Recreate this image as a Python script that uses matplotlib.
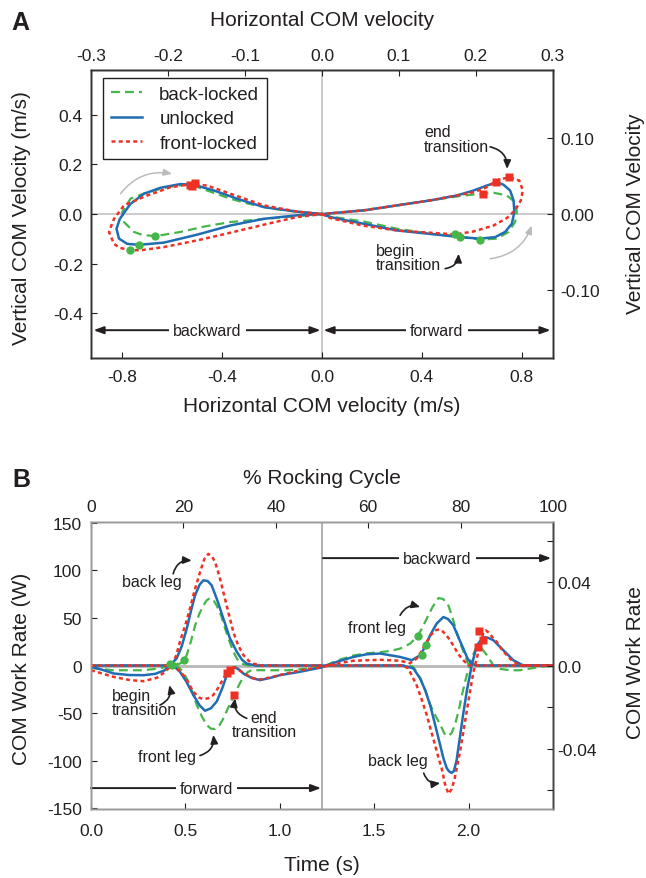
import numpy as np
import matplotlib.pyplot as plt

plt.rcParams['font.family'] = ['Liberation Sans', 'DejaVu Sans']

GREEN = '#45b649'
BLUE = '#1f6db4'
RED = '#ee3124'
INK = '#231f20'
GRAY = '#c2c2c2'

# ---------------- panel A: COM velocity loops (horizontal, vertical in m/s)
bl_loop = [(0.0, 0.0), (0.033, -0.01), (0.167, -0.03), (0.3, -0.059), (0.433, -0.079), (0.533, -0.088),
           (0.633, -0.103), (0.7, -0.099), (0.747, -0.072), (0.773, -0.032), (0.78, 0.008), (0.773, 0.048),
           (0.74, 0.075), (0.687, 0.086), (0.644, 0.082), (0.567, 0.075), (0.433, 0.055), (0.3, 0.035),
           (0.167, 0.015), (0.033, 0.003), (0.0, 0.0), (-0.1, -0.008), (-0.233, -0.02), (-0.367, -0.032),
           (-0.47, -0.05), (-0.567, -0.072), (-0.667, -0.089), (-0.72, -0.084), (-0.753, -0.072),
           (-0.793, -0.032), (-0.8, 0.008), (-0.767, 0.062), (-0.7, 0.088), (-0.62, 0.108), (-0.553, 0.118),
           (-0.507, 0.112), (-0.433, 0.085), (-0.367, 0.062), (-0.3, 0.043), (-0.2, 0.022), (-0.1, 0.009),
           (0.0, 0.0)]
unl_loop = [(0.0, 0.0), (0.033, -0.012), (0.1, -0.026), (0.167, -0.039), (0.3, -0.066), (0.433, -0.08),
            (0.553, -0.093), (0.633, -0.099), (0.693, -0.093), (0.733, -0.072), (0.76, -0.039), (0.77, 0.008),
            (0.767, 0.055), (0.753, 0.095), (0.727, 0.118), (0.7, 0.129), (0.66, 0.115), (0.607, 0.095),
            (0.54, 0.075), (0.433, 0.055), (0.3, 0.035), (0.167, 0.015), (0.033, 0.003), (0.0, 0.0),
            (-0.1, -0.005), (-0.233, -0.019), (-0.367, -0.046), (-0.5, -0.083), (-0.633, -0.115),
            (-0.733, -0.124), (-0.78, -0.12), (-0.813, -0.099), (-0.823, -0.059), (-0.81, -0.02),
            (-0.793, 0.005), (-0.767, 0.041), (-0.713, 0.082), (-0.647, 0.106), (-0.567, 0.121),
            (-0.513, 0.118), (-0.433, 0.095), (-0.34, 0.062), (-0.233, 0.028), (-0.1, 0.01), (0.0, 0.0)]
fl_loop = [(0.0, 0.0), (0.033, -0.016), (0.167, -0.047), (0.3, -0.066), (0.433, -0.075), (0.533, -0.082),
           (0.607, -0.07), (0.687, -0.046), (0.74, -0.016), (0.773, 0.015), (0.796, 0.055), (0.804, 0.095),
           (0.79, 0.135), (0.75, 0.148), (0.707, 0.139), (0.66, 0.108), (0.607, 0.088), (0.54, 0.075),
           (0.433, 0.055), (0.3, 0.035), (0.167, 0.015), (0.033, 0.003), (0.0, 0.0), (-0.1, -0.012),
           (-0.2, -0.035), (-0.3, -0.059), (-0.4, -0.083), (-0.5, -0.106), (-0.633, -0.133), (-0.72, -0.145),
           (-0.767, -0.146), (-0.81, -0.136), (-0.833, -0.12), (-0.853, -0.072), (-0.833, -0.019),
           (-0.793, 0.035), (-0.7, 0.075), (-0.607, 0.108), (-0.53, 0.12), (-0.46, 0.115), (-0.367, 0.082),
           (-0.233, 0.035), (-0.1, 0.01), (0.0, 0.0)]

a_begin = [(0.533, -0.082), (0.553, -0.093), (0.633, -0.103), (-0.667, -0.089), (-0.733, -0.124), (-0.767, -0.144)]
a_end = [(0.749, 0.149), (0.696, 0.129), (0.644, 0.082), (-0.507, 0.126), (-0.53, 0.118), (-0.52, 0.115)]

# ---------------- panel B: COM work rate (W) vs time (s), back and front leg
bl_back = [(0.0, -2.5), (0.118, -5.0), (0.277, -5.0), (0.365, -3.0), (0.418, 0.0), (0.471, 2.0), (0.493, 5.6),
           (0.507, 11.0), (0.53, 26.0), (0.551, 42.0), (0.575, 55.0), (0.595, 63.0), (0.612, 68.5),
           (0.63, 71.0), (0.648, 69.0), (0.666, 63.0), (0.69, 52.0), (0.71, 39.0), (0.732, 26.0),
           (0.754, 14.4), (0.775, 6.5), (0.798, 2.0), (0.83, 0.0), (1.69, 0.0), (1.707, -1.5),
           (1.743, -13.0), (1.77, -26.0), (1.796, -41.0), (1.822, -52.0), (1.849, -62.0), (1.875, -73.0),
           (1.893, -74.0), (1.91, -71.0), (1.928, -62.0), (1.946, -48.5), (1.968, -28.0), (1.99, -10.0),
           (2.016, 7.7), (2.042, 19.6), (2.069, 18.0), (2.096, 11.0), (2.131, 0.0), (2.166, -3.5),
           (2.22, -5.0), (2.272, -5.0), (2.36, -2.0), (2.447, 0.0)]
bl_front = [(0.0, 0.0), (0.454, 0.0), (0.48, -5.0), (0.507, -13.6), (0.535, -27.0), (0.56, -41.6),
            (0.588, -54.0), (0.613, -62.6), (0.635, -66.5), (0.657, -66.8), (0.68, -63.0), (0.701, -55.6),
            (0.73, -43.0), (0.759, -31.0), (0.785, -20.0), (0.807, -11.9), (0.83, -7.0), (0.851, -4.9),
            (0.93, -5.0), (1.04, -5.0), (1.142, -3.4), (1.222, -1.7), (1.3, 5.0), (1.389, 10.5),
            (1.46, 12.8), (1.531, 14.0), (1.59, 15.5), (1.637, 17.8), (1.69, 23.0), (1.725, 30.0),
            (1.75, 38.0), (1.778, 49.3), (1.81, 62.0), (1.84, 71.0), (1.865, 70.0), (1.893, 63.0),
            (1.915, 50.0), (1.937, 35.0), (1.96, 21.0), (1.981, 10.8), (2.0, 0.0), (2.447, 0.0)]
unl_back = [(0.0, -1.5), (0.06, -4.5), (0.12, -8.4), (0.2, -10.0), (0.28, -10.2), (0.34, -8.8), (0.39, -5.0),
            (0.418, 0.0), (0.454, 7.7), (0.48, 20.0), (0.507, 38.8), (0.53, 58.0), (0.551, 73.8),
            (0.575, 85.0), (0.595, 89.6), (0.617, 89.0), (0.639, 84.4), (0.67, 68.0), (0.701, 49.3),
            (0.735, 29.0), (0.772, 14.4), (0.8, 6.0), (0.825, 2.0), (0.87, 0.0), (1.65, 0.0), (1.707, -3.0),
            (1.743, -13.6), (1.77, -26.0), (1.796, -41.6), (1.822, -62.0), (1.849, -83.6), (1.867, -98.0),
            (1.884, -108.0), (1.897, -111.5), (1.91, -113.0), (1.922, -111.0), (1.936, -100.0),
            (1.954, -75.0), (1.972, -50.0), (1.99, -27.3), (2.016, 0.0), (2.043, 21.0), (2.078, 30.0),
            (2.105, 29.0), (2.131, 26.6), (2.184, 16.0), (2.237, 5.5), (2.29, 0.0), (2.447, 0.0)]
unl_front = [(0.0, 0.0), (0.418, 0.0), (0.445, -2.0), (0.471, -6.6), (0.505, -17.0), (0.542, -31.0),
             (0.575, -42.0), (0.604, -47.6), (0.635, -45.0), (0.666, -37.8), (0.695, -24.0), (0.719, -10.2),
             (0.74, -3.5), (0.763, -1.7), (0.785, -4.5), (0.807, -8.4), (0.85, -13.0), (0.895, -15.4),
             (0.95, -13.0), (1.0, -10.2), (1.107, -6.6), (1.222, -2.0), (1.301, 3.8), (1.389, 9.0),
             (1.46, 11.8), (1.531, 12.6), (1.637, 9.0), (1.699, 5.6), (1.743, 10.8), (1.77, 20.0),
             (1.796, 31.8), (1.83, 44.0), (1.866, 51.0), (1.89, 49.0), (1.919, 42.3), (1.945, 30.0),
             (1.972, 17.8), (1.995, 7.0), (2.016, 2.0), (2.04, 0.0), (2.447, 0.0)]
fl_back = [(0.0, -4.9), (0.06, -8.5), (0.118, -11.9), (0.207, -15.4), (0.277, -16.5), (0.348, -13.0),
           (0.39, -7.0), (0.41, -3.0), (0.427, 0.0), (0.45, 10.0), (0.471, 25.0), (0.5, 43.0), (0.524, 60.0),
           (0.55, 80.0), (0.577, 98.0), (0.6, 112.0), (0.621, 117.5), (0.64, 115.0), (0.657, 109.0),
           (0.68, 94.0), (0.701, 77.0), (0.73, 54.0), (0.754, 35.0), (0.78, 21.0), (0.807, 11.0),
           (0.835, 5.0), (0.86, 2.0), (0.9, 0.0), (1.654, 0.0), (1.675, -2.5), (1.69, -7.0), (1.725, -21.0),
           (1.75, -35.0), (1.778, -52.0), (1.8, -68.0), (1.822, -83.6), (1.84, -97.0), (1.857, -108.0),
           (1.875, -125.0), (1.893, -135.0), (1.91, -130.0), (1.925, -120.0), (1.937, -108.0),
           (1.955, -90.0), (1.972, -69.6), (1.99, -48.0), (2.007, -27.6), (2.025, -7.0), (2.051, 14.0),
           (2.078, 35.0), (2.09, 37.0), (2.104, 35.0), (2.125, 30.0), (2.149, 24.8), (2.175, 17.0),
           (2.202, 10.8), (2.23, 5.0), (2.255, 2.0), (2.29, 0.0), (2.447, 0.0)]
fl_front = [(0.0, 0.0), (0.436, 0.0), (0.46, -4.0), (0.489, -10.0), (0.515, -18.0), (0.542, -27.6),
            (0.57, -33.5), (0.595, -35.4), (0.62, -34.5), (0.648, -31.0), (0.672, -24.0), (0.692, -17.0),
            (0.719, -7.7), (0.745, -1.4), (0.77, -3.0), (0.8, -7.0), (0.825, -10.0), (0.86, -13.5),
            (0.895, -14.7), (0.95, -12.5), (1.0, -10.0), (1.107, -5.0), (1.222, -1.7), (1.3, 2.0),
            (1.389, 5.0), (1.531, 6.0), (1.637, 5.0), (1.69, 2.5), (1.725, 7.3), (1.75, 15.0),
            (1.778, 24.8), (1.8, 32.0), (1.822, 37.0), (1.845, 38.0), (1.866, 35.3), (1.893, 29.0),
            (1.919, 21.0), (1.945, 12.0), (1.972, 5.5), (2.0, 0.0), (2.447, 0.0)]

b_begin = [(0.418, 2.0), (0.43, 1.0), (0.493, 5.6), (1.734, 31.0), (1.774, 22.0), (1.751, 11.5)]
b_end = [(0.719, -7.7), (0.736, -4.9), (0.759, -31.0), (2.057, 36.0), (2.078, 26.6), (2.051, 19.6)]

T_END = 2.447          # one full rocking cycle (s)
A_SCALE = 3.08         # m/s per dimensionless velocity unit
B_SCALE = 2186.0       # W per dimensionless work-rate unit

TICK_FS = 12.5
LABEL_FS = 15
NOTE_FS = 11.5

styles = {
    'back-locked': dict(color=GREEN, lw=1.6, ls=(0, (4, 2.3))),
    'unlocked': dict(color=BLUE, lw=1.8, ls='-'),
    'front-locked': dict(color=RED, lw=1.8, ls=(0, (1.6, 1.3))),
}


def xy(pairs):
    arr = np.array(pairs, dtype=float)
    return arr[:, 0], arr[:, 1]


def style_spines(axes, spine_colors):
    for a in axes:
        for side, c in spine_colors.items():
            a.spines[side].set_color(c)
            a.spines[side].set_linewidth(1.0)


fig = plt.figure(figsize=(6.46, 8.79), dpi=100)

# ======================= A
axA = fig.add_axes([0.1409, 0.5916, 0.7152, 0.328])
axA.axhline(0, color=GRAY, lw=1.2, zorder=0.5)
axA.axvline(0, color=GRAY, lw=1.2, zorder=0.5)

for name, loop in [('back-locked', bl_loop), ('unlocked', unl_loop), ('front-locked', fl_loop)]:
    x, y = xy(loop)
    axA.plot(x, y, label=name, **styles[name])

x, y = xy(a_begin)
axA.plot(x, y, 'o', color=GREEN, ms=6, mec='none', zorder=5)
x, y = xy(a_end)
axA.plot(x, y, 's', color=RED, ms=5.5, mec='none', zorder=5)

axA.set_xlim(-0.925, 0.925)
axA.set_ylim(-0.58, 0.582)
axA.set_xticks([-0.8, -0.4, 0.0, 0.4, 0.8], ['-0.8', '-0.4', '0.0', '0.4', '0.8'])
axA.set_yticks([-0.4, -0.2, 0.0, 0.2, 0.4], ['-0.4', '-0.2', '0.0', '0.2', '0.4'])
axA.tick_params(axis='x', direction='in', length=4, labelsize=TICK_FS, pad=8, colors=INK)
axA.tick_params(axis='y', direction='in', length=4, labelsize=TICK_FS, pad=6, colors=INK)

leg = axA.legend(loc='upper left', bbox_to_anchor=(0.026, 0.971), borderaxespad=0, fontsize=13.5,
                 handlelength=1.7, handletextpad=0.9, borderpad=0.4, labelspacing=0.4, fancybox=False,
                 edgecolor=INK, framealpha=1)
leg.get_frame().set_linewidth(1.0)
for t in leg.get_texts():
    t.set_color(INK)

axA_top = axA.twiny()
axA_top.set_xlim(-0.925 / A_SCALE, 0.925 / A_SCALE)
axA_top.set_xticks([-0.3, -0.2, -0.1, 0.0, 0.1, 0.2, 0.3], ['-0.3', '-0.2', '-0.1', '0.0', '0.1', '0.2', '0.3'])
axA_top.tick_params(axis='x', direction='in', length=4, labelsize=TICK_FS, pad=5, colors=INK)

axA_r = axA.twinx()
axA_r.set_ylim(-0.58 / A_SCALE, 0.582 / A_SCALE)
axA_r.set_yticks([-0.1, 0.0, 0.1], ['-0.10', '0.00', '0.10'])
axA_r.tick_params(axis='y', direction='in', length=4, labelsize=TICK_FS, pad=5, colors=INK)

style_spines([axA, axA_top, axA_r], {'left': '#333333', 'right': '#333333', 'top': '#333333', 'bottom': '#333333'})

# direction arrows
arrow2 = dict(arrowstyle='<|-|>,head_length=0.6,head_width=0.22', lw=1.4, color=INK, shrinkA=0, shrinkB=0)
axA.annotate('', xy=(-0.915, -0.468), xytext=(-0.006, -0.468), arrowprops=arrow2)
axA.annotate('', xy=(0.006, -0.468), xytext=(0.915, -0.468), arrowprops=arrow2)
axA.text(-0.46, -0.468, 'backward', ha='center', va='center', fontsize=NOTE_FS, color=INK,
         bbox=dict(fc='white', ec='none', pad=3))
axA.text(0.46, -0.468, 'forward', ha='center', va='center', fontsize=NOTE_FS, color=INK,
         bbox=dict(fc='white', ec='none', pad=3))

# gray direction-of-motion arrows
gray_arrow = dict(arrowstyle='-|>,head_length=0.5,head_width=0.2', lw=1.1, color='#bbbbbb', shrinkA=0, shrinkB=0)
axA.annotate('', xy=(-0.6, 0.162), xytext=(-0.807, 0.082),
             arrowprops=dict(connectionstyle='arc3,rad=-0.3', **gray_arrow))
axA.annotate('', xy=(0.84, -0.046), xytext=(0.673, -0.18),
             arrowprops=dict(connectionstyle='arc3,rad=0.3', **gray_arrow))

black_arrow = dict(arrowstyle='-|>,head_length=0.5,head_width=0.22', lw=1.2, color=INK, shrinkA=0, shrinkB=0)
axA.text(0.409, 0.303, 'end\ntransition', ha='left', va='center', fontsize=NOTE_FS, color=INK, linespacing=0.95)
axA.annotate('', xy=(0.741, 0.182), xytext=(0.673, 0.271),
             arrowprops=dict(connectionstyle='arc3,rad=-0.4', **black_arrow))
axA.text(0.215, -0.176, 'begin\ntransition', ha='left', va='center', fontsize=NOTE_FS, color=INK, linespacing=0.95)
axA.annotate('', xy=(0.547, -0.16), xytext=(0.493, -0.22),
             arrowprops=dict(connectionstyle='arc3,rad=0.4', **black_arrow))

# ======================= B
axB = fig.add_axes([0.1409, 0.0785, 0.7152, 0.3265])
axB.axhline(0, color='#b8b8b8', lw=2.0, zorder=0.5)
axB.axvline(T_END / 2, color='#a8a8a8', lw=1.3, zorder=0.5)

for name, legs in [('back-locked', (bl_back, bl_front)), ('unlocked', (unl_back, unl_front)),
                   ('front-locked', (fl_back, fl_front))]:
    for leg_data in legs:
        t, w = xy(leg_data)
        axB.plot(t, w, **styles[name])

t, w = xy(b_begin)
axB.plot(t, w, 'o', color=GREEN, ms=6, mec='none', zorder=5)
t, w = xy(b_end)
axB.plot(t, w, 's', color=RED, ms=5.5, mec='none', zorder=5)

axB.set_xlim(0, T_END)
axB.set_ylim(-151, 151)
axB.set_xticks([0.0, 0.5, 1.0, 1.5, 2.0], ['0.0', '0.5', '1.0', '1.5', '2.0'])
axB.set_yticks([-150, -100, -50, 0, 50, 100, 150], ['-150', '-100', '-50', '0', '50', '100', '150'])
axB.tick_params(axis='x', direction='in', length=4, labelsize=TICK_FS, pad=10, colors=INK)
axB.tick_params(axis='y', direction='in', length=4, labelsize=TICK_FS, pad=6.5, colors=INK)

axB_top = axB.twiny()
axB_top.set_xlim(0, 100)
axB_top.set_xticks([0, 20, 40, 60, 80, 100], ['0', '20', '40', '60', '80', '100'])
axB_top.tick_params(axis='x', direction='in', length=4, labelsize=TICK_FS, pad=5.5, colors=INK)

axB_r = axB.twinx()
axB_r.set_ylim(-151 / B_SCALE, 151 / B_SCALE)
axB_r.set_yticks([-0.06, -0.04, -0.02, 0.0, 0.02, 0.04, 0.06], ['', '-0.04', '', '0.0', '', '0.04', ''])
axB_r.tick_params(axis='y', direction='in', length=4, labelsize=TICK_FS, pad=3, colors=INK)

style_spines([axB, axB_top, axB_r], {'left': '#9a9a9a', 'right': '#444444', 'top': '#9a9a9a', 'bottom': '#9a9a9a'})

arrow1 = dict(arrowstyle='-|>,head_length=0.6,head_width=0.22', lw=1.4, color=INK, shrinkA=0, shrinkB=0)
axB.annotate('', xy=(T_END - 0.01, 113), xytext=(T_END / 2 + 0.005, 113), arrowprops=arrow1)
axB.text(1.834, 113, 'backward', ha='center', va='center', fontsize=NOTE_FS, color=INK,
         bbox=dict(fc='white', ec='none', pad=3))
axB.annotate('', xy=(T_END / 2 - 0.005, -129), xytext=(0.0, -129), arrowprops=arrow1)
axB.text(0.612, -129, 'forward', ha='center', va='center', fontsize=NOTE_FS, color=INK,
         bbox=dict(fc='white', ec='none', pad=3))

axB.text(0.323, 88, 'back leg', ha='center', va='center', fontsize=NOTE_FS, color=INK)
axB.annotate('', xy=(0.533, 110.5), xytext=(0.435, 96.5),
             arrowprops=dict(connectionstyle='arc3,rad=-0.4', **black_arrow))
axB.text(0.11, -39, 'begin\ntransition', ha='left', va='center', fontsize=NOTE_FS, color=INK, linespacing=0.95)
axB.annotate('', xy=(0.415, -20.7), xytext=(0.365, -41.7),
             arrowprops=dict(connectionstyle='arc3,rad=0.4', **black_arrow))
axB.text(0.916, -62, 'end\ntransition', ha='center', va='center', fontsize=NOTE_FS, color=INK, linespacing=0.95)
axB.annotate('', xy=(0.763, -34.6), xytext=(0.825, -55.6),
             arrowprops=dict(connectionstyle='arc3,rad=-0.4', **black_arrow))
axB.text(0.401, -96, 'front leg', ha='center', va='center', fontsize=NOTE_FS, color=INK)
axB.annotate('', xy=(0.648, -73.1), xytext=(0.577, -94.8),
             arrowprops=dict(connectionstyle='arc3,rad=0.4', **black_arrow))
axB.text(1.515, 40, 'front leg', ha='center', va='center', fontsize=NOTE_FS, color=INK)
axB.annotate('', xy=(1.743, 61.6), xytext=(1.637, 52.8),
             arrowprops=dict(connectionstyle='arc3,rad=-0.4', **black_arrow))
axB.text(1.623, -100, 'back leg', ha='center', va='center', fontsize=NOTE_FS, color=INK)
axB.annotate('', xy=(1.849, -123.8), xytext=(1.762, -113.3),
             arrowprops=dict(connectionstyle='arc3,rad=0.4', **black_arrow))

# ======================= labels
lab = dict(fontsize=LABEL_FS, color=INK, ha='center', va='center')
fig.text(0.4985, 0.9772, 'Horizontal COM velocity', **lab)
fig.text(0.4985, 0.5373, 'Horizontal COM velocity (m/s)', **lab)
fig.text(0.0336, 0.752, 'Vertical COM Velocity (m/s)', rotation=90, **lab)
fig.text(0.983, 0.7565, 'Vertical COM Velocity', rotation=90, **lab)
fig.text(0.4985, 0.4562, '% Rocking Cycle', **lab)
fig.text(0.4985, 0.0148, 'Time (s)', **lab)
fig.text(0.0336, 0.2395, 'COM Work Rate (W)', rotation=90, **lab)
fig.text(0.983, 0.2457, 'COM Work Rate', rotation=90, **lab)
fig.text(0.031, 0.9744, 'A', fontsize=18, fontweight='bold', color=INK, ha='center', va='center')
fig.text(0.033, 0.4539, 'B', fontsize=18, fontweight='bold', color=INK, ha='center', va='center')

fig.savefig('out.png', dpi=100)
